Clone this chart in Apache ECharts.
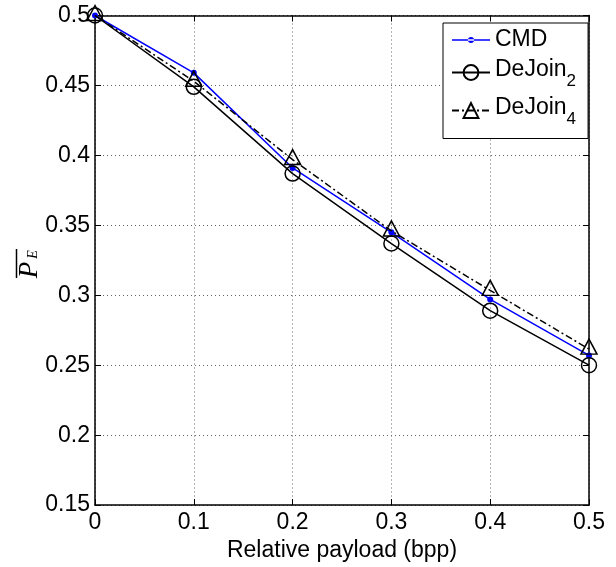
<!DOCTYPE html>
<html><head><meta charset="utf-8">
<script src="https://cdn.jsdelivr.net/npm/echarts@6/dist/echarts.min.js"></script>
<style>html,body{margin:0;padding:0;background:#fff}#c{width:616px;height:567px}</style>
</head><body><div id="c"></div>
<script>
// ---- data ----
const payload = [0, 0.1, 0.2, 0.3, 0.4, 0.5];
const cmd     = [0.5, 0.459, 0.391, 0.345, 0.297, 0.257];
const dejoin2 = [0.5, 0.449, 0.387, 0.337, 0.289, 0.250];
const dejoin4 = [0.5, 0.453, 0.397, 0.346, 0.3035, 0.2615];
const seriesNames = ['CMD', 'DeJoin_2', 'DeJoin_4'];
const xTickLabels = ['0', '0.1', '0.2', '0.3', '0.4', '0.5'];
const yTickLabels = ['0.15', '0.2', '0.25', '0.3', '0.35', '0.4', '0.45', '0.5'];
const xAxisName = 'Relative payload (bpp)';

const FONT = '"Liberation Sans", Arial, Helvetica, sans-serif';
const SERIF = '"Liberation Serif", "DejaVu Serif", serif';
const fmt = v => String(+(+v).toFixed(2));
const pts = arr => payload.map((x, i) => [x, arr[i]]);

const baseAxis = {
  type: 'value',
  axisLine: { show: true, onZero: false, lineStyle: { color: '#000', width: 1.5 } },
  axisTick: { show: true, inside: true, length: 6, lineStyle: { color: '#000', width: 1 } },
};

const chart = echarts.init(document.getElementById('c'), null, { renderer: 'canvas' });
chart.setOption({
  animation: false,
  backgroundColor: '#fff',
  grid: { left: 95, right: 27, top: 15.5, bottom: 56, containLabel: false },
  xAxis: [
    Object.assign({}, baseAxis, {
      position: 'bottom', min: 0, max: 0.5, interval: 0.1,
      name: xAxisName, nameLocation: 'middle', nameGap: 28,
      nameTextStyle: { fontSize: 23, color: '#000', fontFamily: FONT },
      axisLabel: { fontSize: 23, color: '#000', fontFamily: FONT, margin: 6,
        formatter: v => xTickLabels.includes(fmt(v)) ? fmt(v) : '' },
      splitLine: { show: true, lineStyle: { color: '#666', type: [1, 3], width: 1 } }
    }),
    Object.assign({}, baseAxis, {
      position: 'top', min: 0, max: 0.5, interval: 0.1,
      axisLabel: { show: false }, splitLine: { show: false }
    })
  ],
  yAxis: [
    Object.assign({}, baseAxis, {
      position: 'left', min: 0.15, max: 0.5, interval: 0.05,
      axisLabel: { fontSize: 23, color: '#000', fontFamily: FONT, margin: 5,
        formatter: v => yTickLabels.includes(fmt(v)) ? fmt(v) : '' },
      splitLine: { show: true, lineStyle: { color: '#666', type: [1, 3], width: 1 } }
    }),
    Object.assign({}, baseAxis, {
      position: 'right', min: 0.15, max: 0.5, interval: 0.05,
      axisLabel: { show: false }, splitLine: { show: false }
    })
  ],
  legend: {
    orient: 'vertical', left: 443, top: 23,
    backgroundColor: '#fff', borderColor: '#000', borderWidth: 1, borderRadius: 0,
    padding: [5.5, 12, 11, 8], itemGap: 4, itemWidth: 38, itemHeight: 18.5,
    textStyle: {
      fontSize: 23, color: '#000', fontFamily: FONT,
      rich: {
        m: { fontSize: 23, lineHeight: 23, fontFamily: FONT, color: '#000', padding: [1, 0, 7, 0] },
        s: { fontSize: 17, lineHeight: 14, fontFamily: FONT, color: '#000', padding: [17, 0, 0, 0] }
      }
    },
    formatter: name => {
      const m = name.match(/^(.*)_(\d)$/);
      return m ? '{m|' + m[1] + '}{s|' + m[2] + '}' : name;
    },
    data: [
      { name: seriesNames[0], icon: 'path://M0,2.25L38,2.25L38,3.75L0,3.75Z M16,3A3,3,0,1,0,22,3A3,3,0,1,0,16,3Z' },
      seriesNames[1],
      seriesNames[2]
    ]
  },
  series: [
    {
      name: seriesNames[0], type: 'line', data: pts(cmd),
      symbol: 'circle', symbolSize: 6,
      itemStyle: { color: '#0000ff' },
      lineStyle: { color: '#0000ff', width: 1.5 }, z: 2
    },
    {
      name: seriesNames[1], type: 'line', data: pts(dejoin2),
      symbol: 'circle', symbolSize: 15,
      itemStyle: { color: 'rgba(0,0,0,0)', borderColor: '#000', borderWidth: 1.5 },
      lineStyle: { color: '#000', width: 1.5 }, z: 3
    },
    {
      name: seriesNames[2], type: 'line', data: pts(dejoin4),
      symbol: 'triangle', symbolSize: [16, 15], symbolOffset: [0, -2.5],
      itemStyle: { color: 'rgba(0,0,0,0)', borderColor: '#000', borderWidth: 1.5 },
      lineStyle: { color: '#000', width: 1.5, type: [7, 3, 2, 3] }, z: 4
    }
  ],
  graphic: [{
    type: 'group', x: 28, y: 263, rotation: Math.PI / 2,
    children: [
      { type: 'text', x: -7, y: 2, style: { text: 'P', fontSize: 27, fontStyle: 'italic', fontFamily: SERIF, fill: '#000', align: 'center', verticalAlign: 'middle' } },
      { type: 'text', x: 8.5, y: 5.5, style: { text: 'E', fontSize: 14, fontStyle: 'italic', fontFamily: SERIF, fill: '#000', align: 'center', verticalAlign: 'middle' } },
      { type: 'line', shape: { x1: -15, y1: -11.5, x2: 14, y2: -11.5 }, style: { stroke: '#000', lineWidth: 1.5 } }
    ]
  }]
});
</script>
</body></html>
